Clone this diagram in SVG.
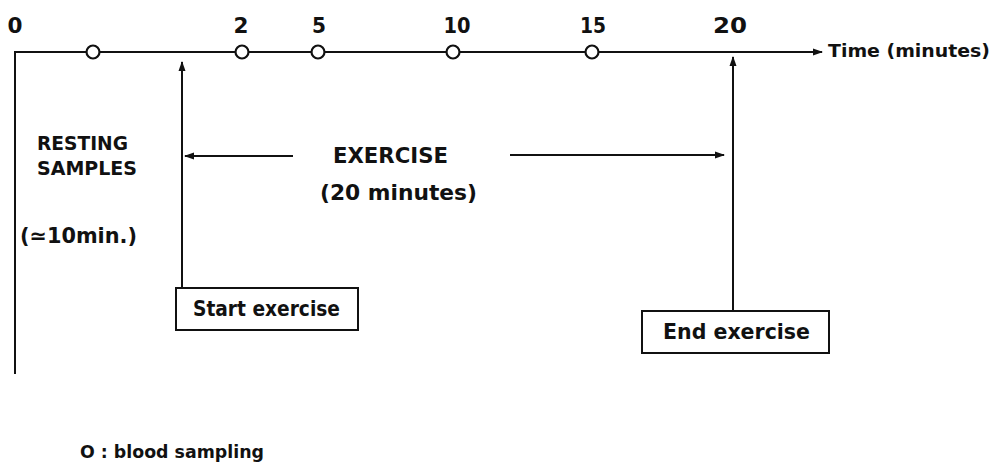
<svg xmlns="http://www.w3.org/2000/svg" width="995" height="472" viewBox="0 0 995 472">
<style>
text{font-family:"DejaVu Sans","Liberation Sans",sans-serif;fill:#111;font-weight:bold}
.n{font-size:21px;text-anchor:middle}
.ln{stroke:#111;stroke-width:2;fill:none}
.dot{fill:#fff;stroke:#111;stroke-width:2.2}
.box{fill:#fff;stroke:#111;stroke-width:2}
</style>
<defs>
<marker id="ah" viewBox="0 0 10 10" refX="9" refY="5" markerWidth="5" markerHeight="5" orient="auto-start-reverse" markerUnits="strokeWidth">
<path d="M0,1.5 L10,5 L0,8.5 Z" fill="#111"/>
</marker>
</defs>
<g id="connectors">
<line class="ln" x1="15" y1="52" x2="822" y2="52" marker-end="url(#ah)"/>
<line class="ln" x1="15" y1="51" x2="15" y2="374"/>
<line class="ln" x1="182" y1="288" x2="182" y2="62" marker-end="url(#ah)"/>
<line class="ln" x1="733" y1="311" x2="733" y2="57" marker-end="url(#ah)"/>
<line class="ln" x1="293" y1="156" x2="185" y2="156" marker-end="url(#ah)"/>
<line class="ln" x1="510" y1="155" x2="724" y2="155" marker-end="url(#ah)"/>
</g>
<g id="axis-labels">
<text class="n" x="15" y="33" textLength="15" lengthAdjust="spacingAndGlyphs">0</text>
<text class="n" x="241" y="33" textLength="15" lengthAdjust="spacingAndGlyphs">2</text>
<text class="n" x="319" y="33" textLength="14" lengthAdjust="spacingAndGlyphs">5</text>
<text class="n" x="457" y="33" textLength="27" lengthAdjust="spacingAndGlyphs">10</text>
<text class="n" x="593" y="33" textLength="26" lengthAdjust="spacingAndGlyphs">15</text>
<text class="n" x="730" y="33" textLength="34" lengthAdjust="spacingAndGlyphs">20</text>
<text x="828" y="57" font-size="18" textLength="162" lengthAdjust="spacingAndGlyphs">Time (minutes)</text>
</g>
<g id="samples">
<circle class="dot" cx="93" cy="52" r="6.5"/>
<circle class="dot" cx="242" cy="52" r="6.5"/>
<circle class="dot" cx="318" cy="52" r="6.5"/>
<circle class="dot" cx="453" cy="52" r="6.5"/>
<circle class="dot" cx="592" cy="52" r="6.5"/>
</g>
<g id="resting">
<text x="37" y="150" font-size="19" textLength="91" lengthAdjust="spacingAndGlyphs">RESTING</text>
<text x="37" y="175" font-size="19" textLength="100" lengthAdjust="spacingAndGlyphs">SAMPLES</text>
<text x="20" y="243" font-size="21" textLength="117" lengthAdjust="spacingAndGlyphs">(≃10min.)</text>
</g>
<g id="exercise">
<text x="333" y="163" font-size="21" textLength="115" lengthAdjust="spacingAndGlyphs">EXERCISE</text>
<text x="320" y="200" font-size="22" textLength="157" lengthAdjust="spacingAndGlyphs">(20 minutes)</text>
</g>
<g id="start">
<rect class="box" x="176" y="288" width="182" height="42"/>
<text x="193" y="316" font-size="21" textLength="147" lengthAdjust="spacingAndGlyphs">Start exercise</text>
</g>
<g id="end">
<rect class="box" x="642" y="311" width="187" height="42"/>
<text x="663" y="339" font-size="21" textLength="147" lengthAdjust="spacingAndGlyphs">End exercise</text>
</g>
<g id="legend">
<text x="80" y="458" font-size="17" textLength="184" lengthAdjust="spacingAndGlyphs">O : blood sampling</text>
</g>
</svg>
